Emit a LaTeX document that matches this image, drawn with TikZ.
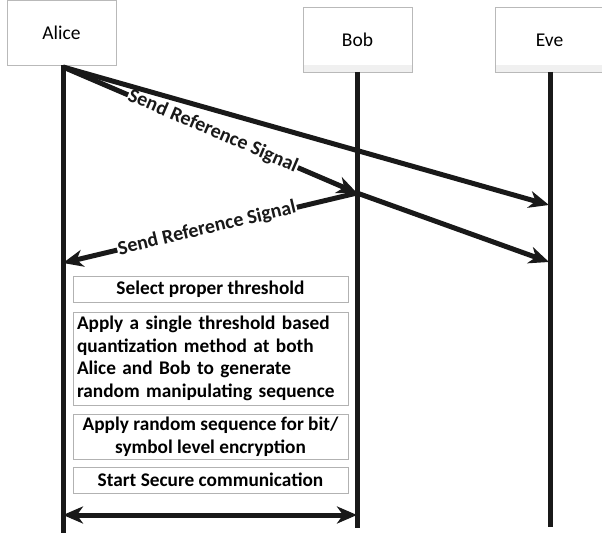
\documentclass[tikz,border=0pt]{standalone}
\usepackage{fontspec}
\setmainfont{Carlito}
\usetikzlibrary{positioning,arrows.meta}

\begin{document}
\begin{tikzpicture}[x=1pt, y=-1pt,
    every node/.style={inner sep=2pt},
    actor/.style={draw=gray!55, line width=0.8pt, fill=white, minimum width=109pt, minimum height=65pt, font=\fontsize{19.5}{22}\selectfont},
    stepbox/.style={draw=gray!60, line width=1pt, minimum width=275pt, font=\bfseries\fontsize{19.3}{22.5}\selectfont},
    life/.style={line width=5pt, black!90},
    msg/.style={line width=5pt, black!90, -{Stealth[length=20pt, width=17pt, inset=6pt]}},
    lbl/.style={sloped, fill=white, inner sep=1pt, font=\bfseries\fontsize{20}{22}\selectfont}]
    \useasboundingbox (0,0) rectangle (602,537);

    % nodes
    \node[actor] (alice) at (61.5,32.5) {Alice};
    \node[actor, path picture={\fill[gray!12] (path picture bounding box.south west) rectangle ([yshift=7pt]path picture bounding box.south east);}] (bob) at (357.5,40) {Bob};
    \node[actor, path picture={\fill[gray!12] (path picture bounding box.south west) rectangle ([yshift=7pt]path picture bounding box.south east);}] (eve) at (549.5,40) {Eve};

    \coordinate (alicetop) at (63,65);
    \coordinate (bobtop) at (357,72);
    \coordinate (evetop) at (550,72);
    \coordinate (aliceend) at (63,533);
    \coordinate (bobend) at (357,528);
    \coordinate (eveend) at (550,527);

    % message points
    \coordinate (a1) at (63,67);
    \coordinate (b1) at (357,193);
    \coordinate (e1) at (549,205);
    \coordinate (a2) at (63,263);
    \coordinate (e2) at (549,262);
    \coordinate (a3) at (63,515);
    \coordinate (b3) at (357,515);

    % steps
    \node[stepbox, minimum height=25pt] (select) at (210.5,289.5) {Select proper threshold};
    \node[stepbox, minimum height=93pt, align=left, text width=267pt] (quant) at (210.5,358.5)
        {Apply a single threshold based\\ quantization method at both\\ Alice and Bob to generate\\ random manipulating sequence};
    \node[stepbox, minimum height=45pt, align=center] (encrypt) at (210.5,436.5)
        {Apply random sequence for bit/\\ symbol level encryption};
    \node[stepbox, minimum height=26pt] (secure) at (210.5,480) {Start Secure communication};

    % lifelines
    \draw[life] (alicetop) -- (aliceend);
    \draw[life] (bobtop) -- (bobend);
    \draw[life] (evetop) -- (eveend);

    % reference signals
    \draw[msg] (a1) -- node[lbl, pos=0.51] {Send Reference Signal} (b1);
    \draw[msg] (a1) -- (e1);
    \draw[msg] (b1) -- node[lbl, pos=0.51] {Send Reference Signal} (a2);
    \draw[msg] (b1) -- (e2);

    % secure link
    \draw[msg, {Stealth[length=20pt, width=17pt, inset=6pt]}-{Stealth[length=20pt, width=17pt, inset=6pt]}] (a3) -- (b3);
\end{tikzpicture}
\end{document}
